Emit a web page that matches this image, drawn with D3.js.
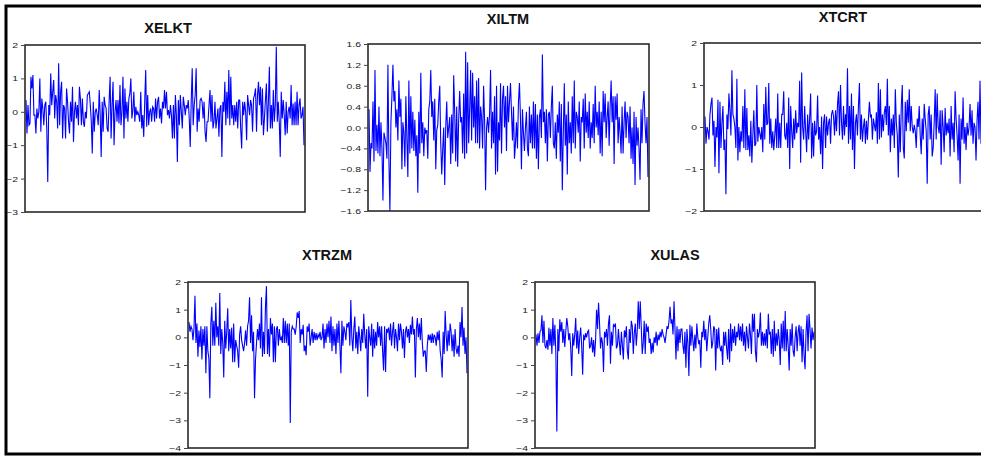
<!DOCTYPE html>
<html>
<head>
<meta charset="utf-8">
<script src="https://cdn.jsdelivr.net/npm/d3@7"></script>
<style>
  html, body { margin: 0; padding: 0; background: #fff; overflow: hidden; }
  svg { display: block; }
  .title { font-family: "Liberation Sans", Arial, sans-serif; font-weight: bold; font-size: 14.5px; fill: #111; }
  .tick text { font-family: "Liberation Sans", Arial, sans-serif; font-size: 8px; fill: #222; }
</style>
</head>
<body>
<svg id="chart" width="981" height="456"></svg>
<script>
// Series names
const seriesNames = ["XELKT", "XILTM", "XTCRT", "XTRZM", "XULAS"];

// Y-axis tick values per series
const ticksXELKT = [-3, -2, -1, 0, 1, 2];
const ticksXILTM = [-1.6, -1.2, -0.8, -0.4, 0.0, 0.4, 0.8, 1.2, 1.6];
const ticksXTCRT = [-2, -1, 0, 1, 2];
const ticksXTRZM = [-4, -3, -2, -1, 0, 1, 2];
const ticksXULAS = [-4, -3, -2, -1, 0, 1, 2];

// Observations
const XELKT = [0.35,-0.65,0.2,-0.4,-0.35,1.05,0.7,1.1,-0.1,-0.1,-0.65,0.1,-0.2,0.0,1.0,-0.6,0.4,0.1,-0.4,0.2,
0.3,-0.5,-2.1,0.2,-0.1,1.15,0.2,0.6,0.95,-0.2,0.5,0.3,-0.5,1.45,-0.4,0.6,0.9,-0.8,0.2,0.1,
-0.8,0.7,0.3,-0.3,-0.65,0.3,-0.3,0.75,-0.9,0.0,0.3,-0.2,0.2,-0.4,0.75,0.4,-0.4,0.4,-0.3,-0.45,
0.0,-0.2,0.5,0.55,0.6,0.2,-0.3,-1.25,0.3,-0.6,0.0,0.1,-0.1,-0.4,0.65,-0.1,-1.35,0.3,-0.6,0.45,
0.2,0.1,-0.5,-0.6,0.3,1.05,-0.8,0.2,0.9,-1.0,0.0,0.35,-0.3,0.35,-0.35,0.8,-0.4,0.0,1.05,-0.8,
0.7,-0.2,0.3,-0.3,0.4,0.55,1.0,-0.2,0.05,0.6,-0.3,0.15,-0.1,0.0,-0.1,-0.3,0.6,-0.5,-0.1,-0.75,
0.3,1.25,-0.45,0.5,-0.4,0.0,0.1,-0.3,0.15,0.1,-0.3,0.4,-0.2,0.3,0.45,-0.2,0.1,-0.35,0.3,0.1,
0.65,0.1,0.6,-0.1,0.05,-0.2,0.2,-0.1,-0.8,0.2,-0.8,0.5,-0.1,-1.5,0.35,-0.4,0.5,0.0,-0.5,0.45,
0.2,-0.1,0.2,0.1,0.35,-0.2,-1.05,0.3,1.3,-0.4,0.2,0.5,1.3,-0.6,0.1,-0.3,0.35,0.4,0.3,-0.2,
0.3,-0.6,-0.9,-0.3,-0.3,0.2,0.65,-0.3,0.5,-0.5,-0.3,0.3,-0.5,-0.2,0.1,-0.75,0.1,0.2,-1.35,0.3,
0.0,0.9,-0.4,0.6,-0.2,1.25,-0.4,1.05,-0.2,0.2,-0.4,0.2,-0.3,0.3,-0.5,0.35,0.35,-0.5,-1.1,0.3,
-0.1,0.3,0.0,-0.85,0.5,0.2,-0.1,0.35,0.2,-0.6,0.4,0.5,0.7,-0.6,0.5,0.9,0.2,0.75,-0.4,0.7,
-0.7,-0.2,0.35,0.85,-0.6,0.3,1.35,-0.5,0.2,-0.5,0.65,-0.3,0.2,1.95,-0.3,0.3,-0.3,-1.35,0.6,-0.2,
0.35,-0.1,-0.7,0.3,-0.65,0.0,0.15,-0.2,0.8,-0.4,0.25,-0.4,0.3,-0.4,0.6,-0.4,0.2,0.4,-0.2,-0.1,
0.15,-1.0];

const XILTM = [0.35,-0.85,-0.3,-0.4,0.5,-0.65,1.1,-0.45,0.05,-0.5,0.4,-0.55,0.1,-0.4,-1.4,-0.1,-0.2,-0.3,-0.6,1.2,
-0.65,-1.6,0.1,0.6,1.2,0.5,0.7,0.0,0.35,-0.25,0.9,0.2,0.55,-0.8,0.1,-0.1,-0.75,0.6,-0.2,-0.95,
0.9,-0.5,0.6,-0.4,0.3,-0.45,0.15,-0.55,-0.15,-1.25,0.3,-0.5,1.05,-0.3,0.1,-0.55,0.0,-0.1,-0.05,-0.6,
0.35,0.5,1.1,0.2,0.5,-0.25,0.55,-0.8,-0.05,0.05,0.5,0.8,-0.3,-0.9,-0.4,0.0,-1.1,0.0,0.5,-0.2,
0.0,0.2,-0.7,0.25,-0.5,1.0,0.3,-0.65,0.4,-0.75,0.15,0.7,0.1,0.2,-0.5,0.65,-0.6,1.45,-0.5,1.25,
-0.3,0.35,1.1,-0.25,1.05,0.0,0.6,-0.3,0.9,-0.3,0.95,-0.4,0.4,0.2,-0.4,0.8,0.15,-1.2,0.0,0.2,
-0.1,0.25,1.1,-0.4,0.3,-0.3,0.6,-0.9,0.8,-0.85,0.1,-0.25,0.85,-0.5,0.55,0.8,0.0,0.6,-0.45,0.8,
0.1,0.5,0.85,0.3,-0.25,0.4,-0.6,-0.3,0.1,-0.4,0.5,0.85,0.2,-0.8,0.35,-0.1,-0.45,0.0,0.3,-0.4,
-0.55,0.4,-0.3,0.25,-0.4,0.5,-0.4,0.45,-0.6,0.25,-0.8,0.2,0.35,-0.2,1.4,0.1,0.3,-0.3,0.35,-0.65,
0.25,0.3,-0.2,0.4,0.8,-0.3,-0.4,0.1,-0.6,0.25,-0.1,0.5,-0.65,0.45,-1.2,-0.1,0.85,-0.35,0.25,-0.9,
0.5,-0.3,0.1,-0.5,0.6,-0.3,0.9,-0.4,0.3,0.2,-0.1,0.5,-0.65,0.2,0.1,0.55,-0.4,0.65,-0.1,0.3,
-0.2,0.5,-0.4,0.1,-0.2,0.45,-0.3,0.8,0.0,0.3,-0.15,0.5,-0.5,0.3,-0.55,0.7,0.1,0.65,-0.2,0.2,
0.5,-0.35,0.4,0.9,0.1,0.6,-0.7,0.6,0.15,0.65,-0.3,0.2,-0.1,-0.5,0.4,-0.5,0.1,0.5,-0.2,0.3,
0.2,-0.3,0.4,-0.6,0.0,-0.7,0.3,-1.1,0.2,-0.35,0.0,-0.4,-1.0,0.35,-0.3,0.45,0.7,0.1,-0.3,0.2,
-0.95];

const XTCRT = [0.25,-0.4,0.0,-0.1,-0.3,0.3,0.55,0.7,-0.2,0.15,-0.95,0.0,-0.25,0.65,-1.1,0.6,-0.5,0.1,0.5,-0.55,
-0.3,-1.6,0.3,-0.05,0.8,0.4,-0.2,1.35,0.3,0.2,0.0,-0.5,1.15,-0.8,0.0,-0.6,-0.1,-0.35,0.5,-0.5,
0.9,-0.55,0.45,-0.55,-0.2,-0.7,0.15,-0.85,-0.2,0.4,-0.45,-0.4,1.0,-0.35,0.0,-0.15,-0.3,0.0,-0.6,0.55,
-0.3,0.95,0.05,0.1,1.05,-0.4,0.2,-0.5,-0.1,-0.55,-0.2,0.2,-0.5,0.8,-0.5,0.1,-0.5,0.3,0.3,0.85,
-0.2,-0.3,0.1,-0.5,0.7,-1.0,0.5,-0.1,-0.5,0.2,-0.3,0.4,-0.15,0.1,0.0,1.1,-0.85,1.3,0.0,-0.3,
0.5,-0.1,-0.6,0.3,-0.3,0.2,0.8,-0.75,0.1,-0.7,0.15,-0.2,-0.1,0.75,-0.3,0.0,-0.65,0.25,-1.0,0.1,
0.3,-0.5,0.25,-0.2,0.1,0.2,-0.4,0.3,0.4,0.25,-0.2,0.4,-0.1,0.55,0.85,-0.2,1.0,0.1,-0.3,0.5,
-0.2,0.3,0.0,1.4,-0.4,0.5,-0.3,0.8,-0.55,0.5,-1.0,0.1,0.3,-0.2,0.5,1.05,-0.3,0.3,-0.35,0.0,
0.2,-0.4,0.15,-0.3,0.2,0.6,0.25,0.3,-0.3,0.2,0.05,-0.1,0.35,-0.4,1.05,-0.3,0.9,-0.25,0.3,-0.1,
0.35,0.5,0.05,1.15,-0.2,0.5,-0.6,0.2,-0.2,0.3,-0.5,0.9,0.1,-0.2,-1.2,0.3,-0.6,0.5,1.0,-0.5,
-0.75,0.6,-0.1,0.65,0.1,0.9,-0.1,0.5,0.0,-0.15,0.05,-0.1,-0.5,0.2,0.0,0.5,-0.2,-0.65,0.2,-0.3,
0.55,0.2,-0.1,-1.35,0.3,0.5,-0.3,0.3,-0.7,-0.5,0.1,0.9,-0.3,0.8,0.0,-0.15,0.4,-0.9,0.4,0.0,
-0.6,0.45,-0.2,0.1,-0.15,0.2,-0.7,0.5,-0.3,0.1,-0.6,0.85,0.2,-0.2,-0.8,0.3,-1.35,0.2,-0.3,0.7,
-0.4,0.0,-0.55,0.1,-0.2,0.0,0.55,-0.2,0.4,-0.4,0.1,0.0,-0.8,0.15,0.6,-0.3,1.1,-0.4,0.2,-0.1,
0.3];

const XTRZM = [0.55,0.2,0.4,0.3,-0.1,0.3,1.5,-0.2,0.5,-0.7,0.25,-0.35,0.4,-0.8,0.3,-0.3,0.4,-1.3,0.4,-0.5,
-0.75,-2.2,0.5,1.1,-0.3,0.6,-0.3,1.25,0.0,0.4,-0.3,1.6,-0.6,0.3,-0.2,-1.45,0.6,-0.4,0.2,1.05,
-0.5,0.3,-0.4,0.35,-0.9,0.5,-0.9,-0.1,-0.3,-0.5,-1.1,0.1,0.4,-0.1,-0.3,-0.5,-0.2,0.25,-0.3,0.4,
0.6,1.45,-0.2,0.8,-0.5,0.2,-2.2,-0.8,-0.2,0.3,-0.1,0.5,-0.4,1.45,-0.7,0.2,-0.6,1.1,1.85,-0.6,
0.3,-0.7,0.7,0.1,0.5,-0.9,0.4,-0.9,0.3,0.4,-0.3,0.3,-0.1,0.0,-0.2,0.7,-0.2,0.6,-0.2,0.5,
-0.3,0.5,-3.1,0.2,0.4,0.3,0.3,0.1,0.4,0.9,0.7,0.95,-0.2,0.3,0.1,0.45,-0.5,-0.3,-0.65,0.4,
0.2,0.5,-0.3,0.0,0.3,-0.2,0.2,-0.1,0.15,-0.1,0.1,0.0,0.2,-0.1,0.0,0.5,-0.4,0.3,-0.2,0.5,
0.0,0.6,-0.2,0.75,-0.5,0.4,-0.3,0.3,-0.6,0.5,-0.2,0.6,-0.3,-1.3,0.6,-0.3,0.4,0.2,-0.1,0.5,
0.4,0.55,-0.3,1.35,0.0,-0.5,0.3,0.75,-0.4,0.2,-0.6,0.4,0.0,-0.5,0.3,-0.2,0.85,0.1,-0.4,0.3,
-2.15,0.4,0.0,-0.3,0.5,-0.7,0.3,-0.4,0.2,-0.3,0.55,0.0,0.4,-0.3,0.4,-0.5,-1.2,0.4,-1.25,0.3,
0.2,0.35,-0.1,0.5,-0.3,0.2,0.55,-0.4,0.3,0.0,-0.5,0.5,-0.1,0.5,0.2,-0.4,0.3,-0.75,0.2,0.4,
0.0,0.3,-0.2,0.45,0.1,0.75,0.1,0.3,-1.45,0.3,0.7,0.0,0.5,-0.1,0.7,-0.2,-0.7,-0.5,-0.5,-1.25,
-0.3,0.1,-0.1,0.1,-0.2,0.15,-0.2,0.1,0.0,-0.3,0.2,-0.1,0.25,-0.5,-0.8,-1.45,0.2,-0.6,0.95,0.1,
-0.5,0.25,-0.3,0.5,0.2,-0.5,0.1,-0.7,0.3,-0.4,-0.6,-0.3,-0.7,0.55,0.0,1.1,-0.3,0.35,-0.6,0.0,
-1.3];

const XULAS = [0.1,-0.3,0.15,-0.2,0.2,0.25,0.8,-0.2,0.6,-0.3,-0.4,-0.1,-0.45,0.35,-0.3,0.3,-0.6,0.7,-0.3,0.45,
-0.6,-3.4,0.3,-0.5,0.65,0.2,0.55,-0.2,0.3,-0.35,0.2,0.7,0.4,-0.1,0.15,-0.4,-1.4,0.15,-0.3,0.1,
0.7,-0.4,0.25,-0.6,0.0,0.35,-0.3,-1.35,0.1,-0.1,0.15,0.0,0.2,0.25,-0.4,-0.3,0.0,-0.55,-0.1,-0.7,
-0.1,1.0,0.3,1.25,0.5,-0.4,0.0,-0.2,-1.25,0.2,0.0,0.3,-0.3,0.5,0.8,-0.95,0.2,-0.3,0.45,0.4,
0.5,-0.4,-0.3,0.3,-0.2,-0.65,0.2,-0.3,-0.8,0.25,0.0,0.4,-0.5,-0.8,0.3,-0.2,0.6,0.4,-0.6,0.15,
0.5,-0.3,0.25,1.3,0.3,1.3,0.4,-0.6,-0.2,0.6,-0.6,0.5,0.2,0.4,-0.2,-0.05,-0.6,-0.2,-0.55,0.0,
-0.2,0.2,-0.3,0.1,-0.1,0.2,0.0,0.3,0.1,0.0,-0.2,0.1,0.4,0.3,0.6,1.1,0.5,0.65,0.1,1.3,
0.3,-0.8,0.4,-0.5,0.3,-0.2,0.3,0.3,-0.3,-0.6,0.2,-1.1,0.3,-0.2,-1.4,0.45,-0.3,0.4,-0.1,-0.5,
0.1,-0.4,0.5,0.0,-0.25,-0.1,-1.1,0.2,0.0,0.6,-0.1,0.3,-0.5,0.0,0.5,0.8,0.3,-0.4,-0.2,0.4,
0.3,-1.2,0.3,-0.4,0.35,-0.3,-0.5,-0.3,-1.0,0.2,-0.3,0.2,-0.4,-0.8,0.3,-0.9,0.5,-0.5,0.3,-0.2,
0.4,-0.3,0.2,0.0,0.5,-0.1,0.4,-0.15,0.5,-0.3,0.2,-0.5,0.4,0.0,-0.4,0.5,0.1,-0.6,0.85,0.2,
0.85,-0.5,-0.9,0.3,0.0,0.2,0.9,-0.3,0.2,-0.3,0.15,-0.3,0.3,-0.4,0.85,0.1,0.2,-0.6,0.3,-0.7,
0.6,-0.5,0.15,-0.3,0.3,-0.1,-1.0,0.5,-0.4,0.6,-0.5,0.95,-0.5,0.3,-0.3,-1.2,0.3,-0.3,0.5,-0.5,
-0.7,0.0,0.4,-0.5,0.2,0.45,-0.3,0.4,-0.9,0.3,-0.65,-1.15,0.2,0.8,-0.5,0.85,0.3,-0.4,0.35,-0.1,
0.2];

const seriesData = [XELKT, XILTM, XTCRT, XTRZM, XULAS];
const seriesTicks = [ticksXELKT, ticksXILTM, ticksXTCRT, ticksXTRZM, ticksXULAS];
const tickFormats = [d3.format("d"), d3.format(".1f"), d3.format("d"), d3.format("d"), d3.format("d")];

// Panel boxes: plot-area left, top, right, bottom; title centre
const panels = [
  { x0: 25,  y0: 45,  x1: 305, y1: 212, tx: 168, ty: 33 },
  { x0: 368, y0: 44,  x1: 649, y1: 211, tx: 508, ty: 24 },
  { x0: 704, y0: 43,  x1: 985, y1: 211, tx: 843, ty: 22 },
  { x0: 188, y0: 282, x1: 468, y1: 448, tx: 327, ty: 260 },
  { x0: 535, y0: 282, x1: 815, y1: 448, tx: 675, ty: 260 }
];

const glyphStretch = 1.3;
const svg = d3.select("#chart");

// outer frame
svg.append("rect")
  .attr("x", 6).attr("y", 6)
  .attr("width", 990).attr("height", 448)
  .attr("fill", "none")
  .attr("stroke", "#000")
  .attr("stroke-width", 3);

seriesNames.forEach((name, i) => {
  const p = panels[i];
  const vals = seriesData[i];
  const ticks = seriesTicks[i];
  const g = svg.append("g");

  const x = d3.scaleLinear().domain([0, vals.length - 1]).range([p.x0 + 1, p.x1 - 1]);
  const y = d3.scaleLinear().domain([ticks[0], ticks[ticks.length - 1]]).range([p.y1, p.y0]);

  g.append("text")
    .attr("class", "title")
    .attr("x", p.tx).attr("y", p.ty)
    .attr("text-anchor", "middle")
    .text(name);

  // series line
  g.append("path")
    .datum(vals)
    .attr("fill", "none")
    .attr("stroke", "#0000ff")
    .attr("stroke-width", 1.1)
    .attr("d", d3.line().x((d, k) => x(k)).y(d => y(d)));

  // plot frame
  g.append("rect")
    .attr("x", p.x0).attr("y", p.y0)
    .attr("width", p.x1 - p.x0).attr("height", p.y1 - p.y0)
    .attr("fill", "none")
    .attr("stroke", "#2a2a2a")
    .attr("stroke-width", 1.6);

  // left axis
  const axis = d3.axisLeft(y).tickValues(ticks).tickFormat(tickFormats[i]).tickSize(4).tickPadding(3);
  const ag = g.append("g").attr("transform", `translate(${p.x0},0)`).call(axis);
  ag.select(".domain").remove();
  ag.selectAll(".tick line").attr("stroke", "#444");
  // tick labels use slightly widened glyphs
  ag.selectAll(".tick text").each(function () {
    const t = d3.select(this);
    t.attr("x", +t.attr("x") / glyphStretch).attr("transform", `scale(${glyphStretch},1)`);
  });
});
</script>
</body>
</html>
